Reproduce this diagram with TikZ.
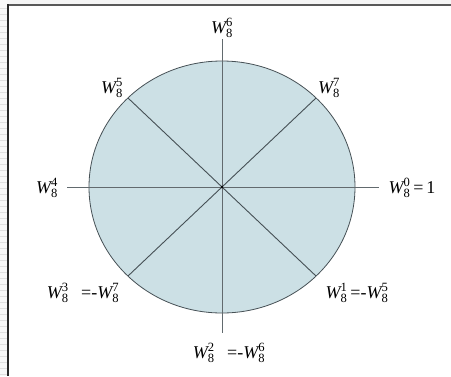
\documentclass[tikz,border=0pt]{standalone}
\usepackage{amsmath}
\usepackage{fontspec}
\setmainfont{Liberation Serif}
\newcommand{\Wt}[2]{$\text{\itshape W}^{\text{#1}}_{\text{#2}}$}
\definecolor{discfill}{RGB}{204,224,229}
\definecolor{discline}{RGB}{70,80,85}
\tikzset{
  lbl/.style={inner sep=0pt, font=\fontsize{18}{21}\selectfont},
  spoke/.style={draw=discline, line width=0.9pt},
  axis/.style={draw=discline!85, line width=0.9pt}
}
\begin{document}
\begin{tikzpicture}[x=1pt,y=-1pt]
\useasboundingbox (0,0) rectangle (451,376);
% frame / margins
\fill[gray!8] (0,0) rectangle (451,4);
\fill[gray!6] (0,0) rectangle (7,376);
\foreach \yy in {8,14,...,376} \draw[gray!25, line width=0.5pt] (0,\yy) -- (7,\yy);
\draw[gray!70!black, line width=1.5pt] (8,5) -- (451,5);
\draw[black!85, line width=1.5pt] (8,4.3) -- (8,376);
% disc
\coordinate (c) at (222,187);
\filldraw[fill=discfill, draw=discline, line width=0.8pt] (c) ellipse [x radius=133, y radius=126];
% axes
\coordinate (top) at (222,39);
\coordinate (bot) at (222,333);
\coordinate (lft) at (67,187);
\coordinate (rgt) at (379,187);
\draw[axis] (top) -- (bot);
\draw[axis] (lft) -- (rgt);
% diagonal spokes
\coordinate (ur) at (316,98);
\coordinate (ul) at (128,98);
\coordinate (lr) at (316,276);
\coordinate (ll) at (128,276);
\draw[spoke] (c) -- (ur);
\draw[spoke] (c) -- (ul);
\draw[spoke] (c) -- (lr);
\draw[spoke] (c) -- (ll);
\fill[black] (c) circle (1.3);
% labels
\node[lbl] (w6) at (222,28) {\Wt{6}{8}};
\node[lbl] (w5) at (112,88) {\Wt{5}{8}};
\node[lbl] (w7) at (329,88) {\Wt{7}{8}};
\node[lbl] (w4) at (47,188) {\Wt{4}{8}};
\node[lbl] (w0) at (412,188) {\Wt{0}{8}\,=\,1};
\node[lbl] (w3) at (83,293) {\Wt{3}{8}\hspace{0.7em}=-\Wt{7}{8}};
\node[lbl] (w1) at (357,293) {\Wt{1}{8}\,=-\Wt{5}{8}};
\node[lbl] (w2) at (229,353) {\Wt{2}{8}\hspace{0.7em}=-\Wt{6}{8}};
\end{tikzpicture}
\end{document}
